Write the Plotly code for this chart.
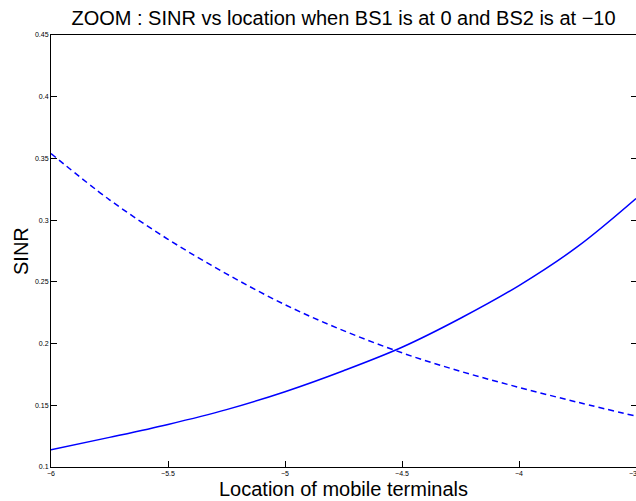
import plotly.graph_objects as go


# ---------------------------------------------------
# Data (SINR vs location)
# ---------------------------------------------------

location = [-6.0, -5.75, -5.5, -5.25, -5.0, -4.75, -4.5, -4.25, -4.0, -3.75, -3.5]
sinr_bs1 = [0.114, 0.124, 0.1345, 0.1465, 0.161, 0.178, 0.197, 0.2205, 0.247, 0.2785, 0.3175]
sinr_bs2 = [0.354, 0.3165, 0.2845, 0.2565, 0.2315, 0.2105, 0.1925, 0.1775, 0.1645, 0.1525, 0.1412]

x_ticks = [-6, -5.5, -5, -4.5, -4, -3.5]
x_tick_text = ["\u22126", "\u22125.5", "\u22125", "\u22124.5", "\u22124", ""]
y_ticks = [0.1, 0.15, 0.2, 0.25, 0.3, 0.35, 0.4, 0.45]

FONT = "Liberation Sans, Arial, sans-serif"
BLUE = "rgb(0,0,255)"


def sinr_chart():

    fig = go.Figure()

    fig.add_trace(go.Scatter(
        x=location,
        y=sinr_bs1,
        mode="lines",
        line=dict(color=BLUE, width=1.5, shape="spline"),
        showlegend=False
    ))

    fig.add_trace(go.Scatter(
        x=location,
        y=sinr_bs2,
        mode="lines",
        line=dict(color=BLUE, width=1.5, dash="6px,4px", shape="spline"),
        showlegend=False
    ))

    # invisible trace just to get the right-hand tick marks
    fig.add_trace(go.Scatter(
        x=[location[0]],
        y=[sinr_bs1[0]],
        yaxis="y2",
        mode="markers",
        marker=dict(opacity=0),
        hoverinfo="skip",
        showlegend=False
    ))

    axis_font = dict(family=FONT, size=7, color="black")

    fig.update_layout(
        width=636,
        height=501,
        margin=dict(l=51, r=0, t=35, b=34),
        paper_bgcolor="white",
        plot_bgcolor="white",
        font=dict(family=FONT, color="black"),
        title=dict(
            text="ZOOM : SINR vs location when BS1 is at 0 and BS2 is at \u221210",
            x=0.5,
            xref="paper",
            y=0.978,
            yref="container",
            yanchor="top",
            font=dict(family=FONT, size=20, color="black")
        ),
        xaxis=dict(
            range=[-6, -3.5],
            tickvals=x_ticks,
            ticktext=x_tick_text,
            ticks="inside",
            ticklen=6,
            tickwidth=1,
            tickcolor="black",
            showline=True,
            linecolor="black",
            linewidth=1,
            mirror=True,
            showgrid=False,
            zeroline=False,
            automargin=False,
            tickfont=axis_font
        ),
        yaxis=dict(
            range=[0.1, 0.45],
            tickvals=y_ticks,
            ticks="inside",
            ticklen=6,
            tickwidth=1,
            tickcolor="black",
            showline=True,
            linecolor="black",
            linewidth=1,
            mirror=False,
            showgrid=False,
            zeroline=False,
            automargin=False,
            tickfont=axis_font
        ),
        yaxis2=dict(
            range=[0.1, 0.45],
            overlaying="y",
            side="right",
            tickvals=y_ticks,
            ticks="inside",
            ticklen=5,
            tickwidth=1,
            tickcolor="black",
            showline=False,
            showticklabels=False,
            showgrid=False,
            zeroline=False,
            automargin=False
        ),
        annotations=[
            # last x tick label sits on the right edge and gets cut, as in the original
            dict(
                text="\u22123.5",
                xref="x", yref="paper",
                x=-3.5, y=0,
                xanchor="center", yanchor="top",
                yshift=-1,
                showarrow=False,
                font=axis_font
            ),
            dict(
                text="Location of mobile terminals",
                xref="paper", yref="paper",
                x=0.5, y=-0.051,
                xanchor="center", yanchor="middle",
                showarrow=False,
                font=dict(family=FONT, size=20, color="black")
            ),
            dict(
                text="SINR",
                xref="paper", yref="paper",
                x=-0.0513, y=0.5,
                xanchor="center", yanchor="middle",
                textangle=-90,
                showarrow=False,
                font=dict(family=FONT, size=20, color="black")
            )
        ]
    )

    return fig


fig = sinr_chart()
fig.write_html(
    "out.html",
    config={"displayModeBar": False},
    post_script="document.body.style.margin='0';document.body.style.overflow='hidden';"
)
